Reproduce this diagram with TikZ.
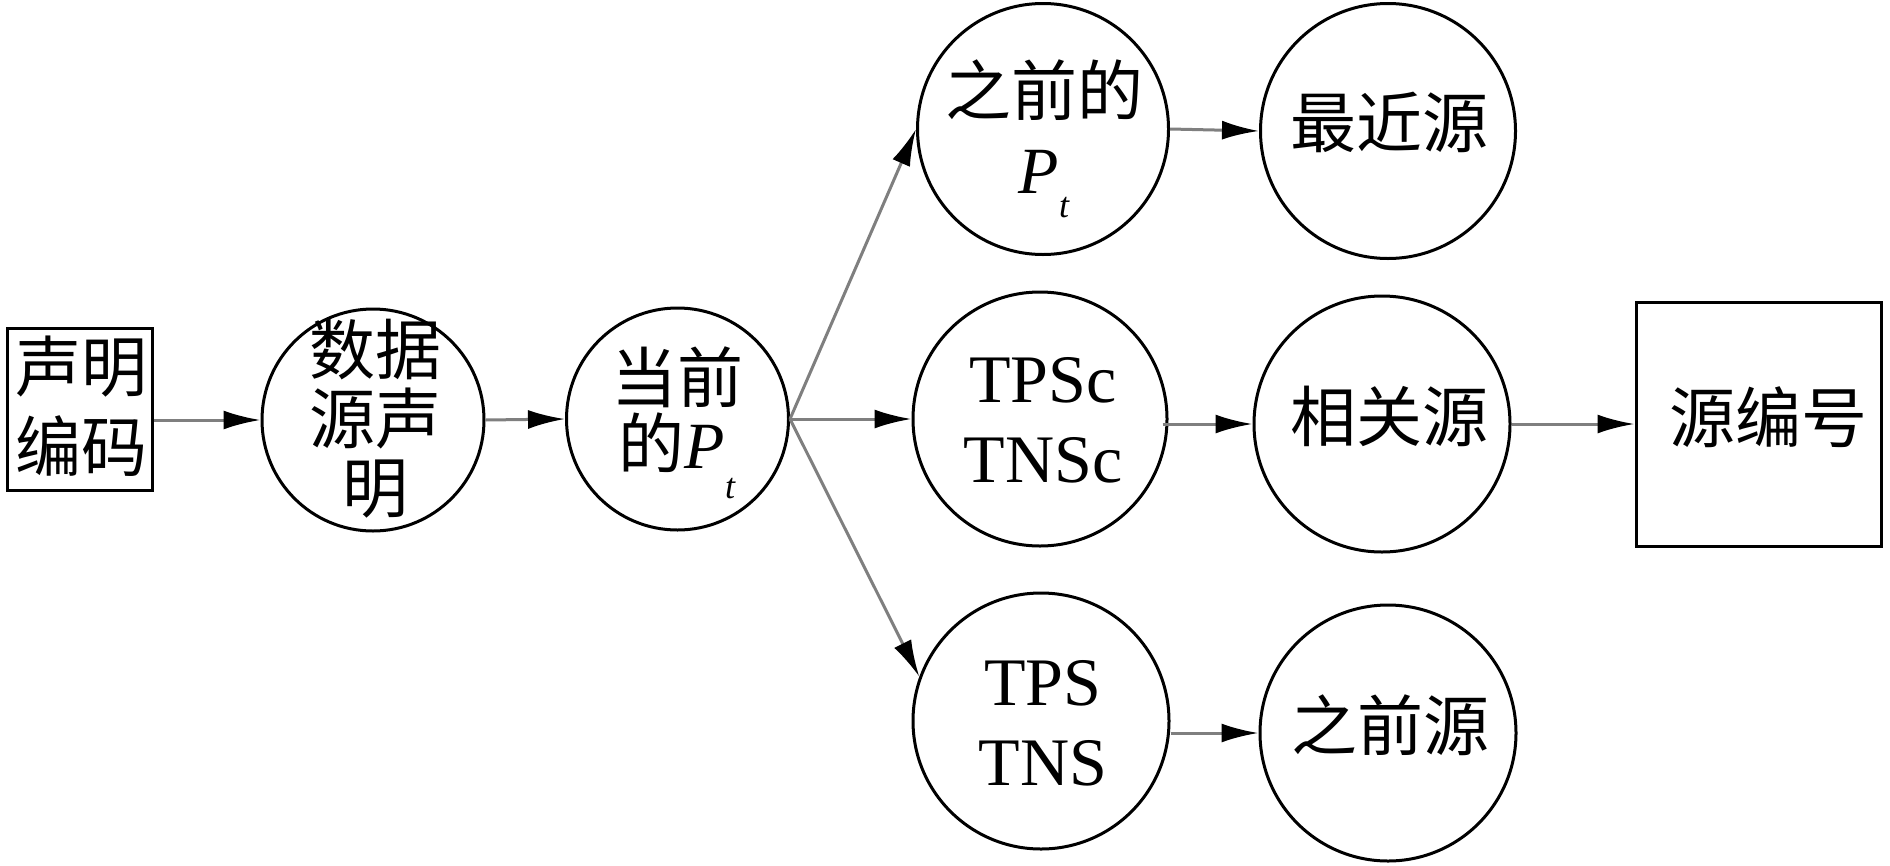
\documentclass[tikz,border=0pt]{standalone}
\usepackage{fontspec}
\setmainfont{Liberation Serif}
\newfontfamily\cjk{Noto Sans CJK SC}
\usetikzlibrary{arrows.meta}
\definecolor{linegray}{HTML}{7F7F7F}
\begin{document}
\begin{tikzpicture}[x=1pt,y=-1pt,
  circ/.style={circle,draw=black,line width=3pt,inner sep=0pt,minimum size=#1},
  sqbox/.style={rectangle,draw=black,line width=3pt,inner sep=0pt},
  conn/.style={draw=linegray,line width=3pt,-{Latex[length=37pt,width=19pt,color=black]}},
  cjktxt/.style={font=\cjk\fontsize{66}{80}\selectfont,align=center,inner sep=0pt},
  lattxt/.style={font=\rmfamily\fontsize{68}{80}\selectfont,align=center,inner sep=0pt}]
\fill[white] (0,0) rectangle (1890,865);
\useasboundingbox (0,0) rectangle (1890,865);
% shapes
\node[sqbox,minimum width=145pt,minimum height=162pt] (box1) at (79.5,409) {};
\node[circ=222pt] (c1) at (373,420) {};
\node[circ=222pt] (c2) at (677.5,419) {};
\node[circ=251pt] (prevpt) at (1043,129) {};
\node[circ=254pt] (tpsc) at (1040,419) {};
\node[circ=256pt] (tps) at (1041,721) {};
\node[circ=255pt] (recent) at (1388,131) {};
\node[circ=256pt] (rel) at (1382,424) {};
\node[circ=256pt] (prevsrc) at (1388,733) {};
\node[sqbox,minimum width=245pt,minimum height=244pt] (box2) at (1758.5,424) {};
% texts
\node[cjktxt] (box1t) at (82,406) {声明\\编码};
\node[cjktxt,font=\cjk\fontsize{66}{69}\selectfont] (c1t) at (375,419) {数据\\源声\\明};
\node[cjktxt,font=\cjk\fontsize{66}{66}\selectfont] (c2t) at (677,410) {当前\\的{\rmfamily\itshape\fontsize{66}{66}\selectfont P}\smash{\raisebox{-30pt}{\rmfamily\itshape\fontsize{36}{36}\selectfont t}}};
\node[cjktxt,font=\cjk\fontsize{66}{78}\selectfont] (prevptt) at (1044,126.5) {之前的\\{\rmfamily\itshape\fontsize{66}{66}\selectfont P}\smash{\raisebox{-24pt}{\rmfamily\itshape\fontsize{36}{36}\selectfont t}}};
\node[lattxt] (tpsct) at (1043,420.5) {TPSc\\TNSc};
\node[lattxt] (tpst) at (1043,723.5) {TPS\\TNS};
\node[cjktxt] (recentt) at (1389.5,122.5) {最近源};
\node[cjktxt] (relt) at (1389,416) {相关源};
\node[cjktxt] (prevsrct) at (1390,725) {之前源};
\node[cjktxt] (box2t) at (1768,417.5) {源编号};
% connectors
\draw[conn] (box1.east |- c1.west) -- (c1.west);
\draw[conn] (c1.east) -- (c2.west);
\draw[conn] (c2.east) -- (prevpt.west);
\draw[conn] (c2.east) -- (tpsc.west);
\draw[conn] (c2.east) -- (tps.160);
\draw[conn] (prevpt.east) -- (recent.west);
\draw[conn] ([xshift=-6pt]tpsc.east |- rel.west) -- (rel.west);
\draw[conn] (rel.east) -- (box2.west);
\draw[conn] (tps.east |- prevsrc.west) -- (prevsrc.west);
\end{tikzpicture}
\end{document}
